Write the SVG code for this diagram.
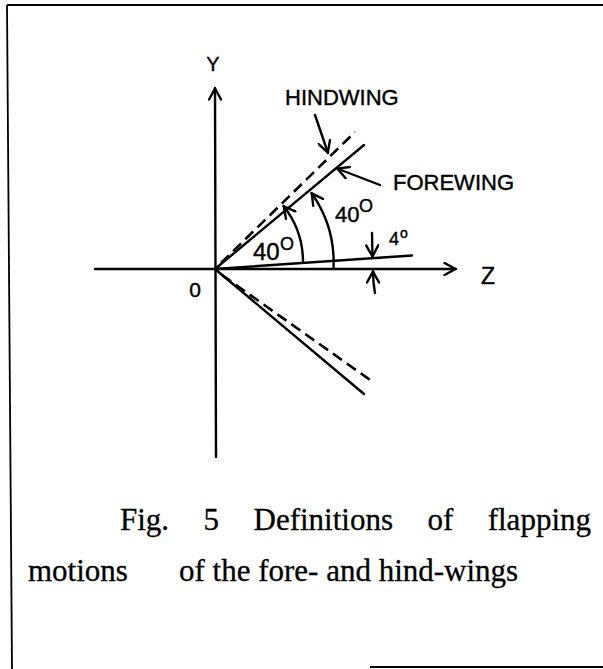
<svg xmlns="http://www.w3.org/2000/svg" width="603" height="669" viewBox="0 0 603 669">
<defs>
<style>
.ln{stroke:#000;stroke-width:2.4;fill:none;stroke-linecap:round}
.dash{stroke:#000;stroke-width:2.6;fill:none;stroke-dasharray:11 6}
.thin{stroke:#000;stroke-width:1.8;fill:none}
.lab{font-family:"Liberation Sans",Arial,sans-serif;fill:#000;stroke:#000;stroke-width:0.4}
.cap{font-family:"Liberation Serif","Times New Roman",serif;font-size:31px;fill:#000;stroke:#000;stroke-width:0.3}
</style>
<marker id="ah" viewBox="0 0 14 14" refX="13" refY="7" markerWidth="14" markerHeight="14" markerUnits="userSpaceOnUse" orient="auto">
<path d="M1.5,1 L12.5,7 L1.5,13" fill="none" stroke="#000" stroke-width="2.4" stroke-linecap="round" stroke-linejoin="round"/>
</marker>
</defs>
<rect width="603" height="669" fill="#fff"/>
<g id="frame" class="thin">
<line x1="7" y1="5" x2="603" y2="5"/>
<line x1="7" y1="5" x2="12" y2="669"/>
<line x1="370" y1="667" x2="603" y2="667"/>
</g>
<g id="axes">
<line class="ln" x1="216" y1="457" x2="215" y2="88" marker-end="url(#ah)"/>
<line class="ln" x1="95" y1="269" x2="456" y2="269" marker-end="url(#ah)"/>
<text class="lab" x="213" y="71" font-size="20" text-anchor="middle">Y</text>
<text class="lab" x="481" y="284" font-size="23">Z</text>
<text class="lab" x="195" y="297" font-size="21" text-anchor="middle">0</text>
</g>
<g id="wings">
<line class="ln" x1="215" y1="269" x2="364" y2="145"/>
<line class="dash" x1="221" y1="263" x2="355" y2="132"/>
<line class="ln" x1="215" y1="269" x2="364" y2="394"/>
<line class="dash" x1="222" y1="275" x2="373" y2="382"/>
<line class="ln" x1="215" y1="269" x2="412" y2="255.5"/>
</g>
<g id="connectors">
<path class="ln" d="M303,261 A90,90 0 0 0 283.5,206" marker-end="url(#ah)"/>
<path class="ln" d="M333.5,268.5 A121,121 0 0 0 311.5,193" marker-end="url(#ah)"/>
<line class="ln" x1="315" y1="115" x2="328" y2="153" marker-end="url(#ah)"/>
<line class="ln" x1="380" y1="185" x2="337" y2="168.5" marker-end="url(#ah)"/>
<line class="ln" x1="372" y1="233" x2="372.5" y2="257" marker-end="url(#ah)"/>
<path class="ln" d="M375,293 Q373,283 373,271" marker-end="url(#ah)"/>
</g>
<g id="labels">
<text class="lab" x="285" y="105" font-size="22">HINDWING</text>
<text class="lab" x="393" y="190" font-size="22">FOREWING</text>
<text class="lab" x="335" y="222" font-size="22">40</text>
<text class="lab" x="359" y="212" font-size="18">O</text>
<text class="lab" x="253" y="260" font-size="24">40</text>
<text class="lab" x="280" y="250" font-size="18">O</text>
<text class="lab" x="389" y="245" font-size="18">4</text>
<text class="lab" x="400" y="238" font-size="14">o</text>
</g>
<g id="caption">
<text class="cap" x="120" y="530">Fig.</text>
<text class="cap" x="203.5" y="530">5</text>
<text class="cap" x="253.5" y="530">Definitions</text>
<text class="cap" x="427.5" y="530">of</text>
<text class="cap" x="487.7" y="530">flapping</text>
<text class="cap" x="28" y="581">motions</text>
<text class="cap" x="179" y="581">of the fore- and hind-wings</text>
</g>
</svg>
